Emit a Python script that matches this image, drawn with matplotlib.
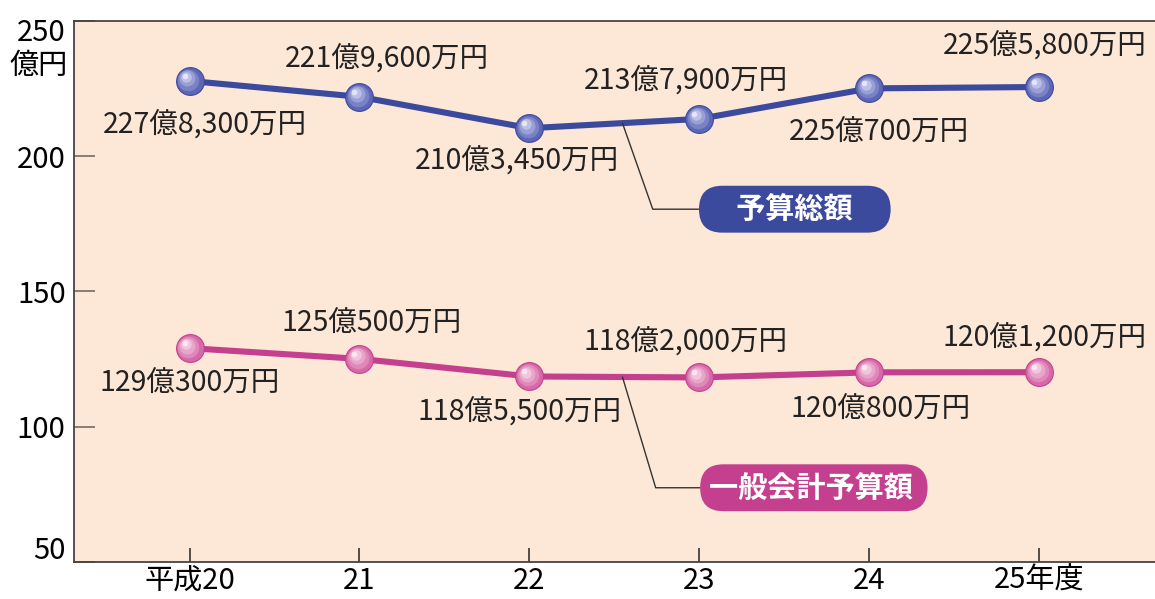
import numpy as np
import matplotlib.pyplot as plt
from matplotlib.transforms import offset_copy, ScaledTranslation

plt.rcParams['font.family'] = ['Noto Sans CJK JP', 'DejaVu Sans']

# data (億円)
years = ['平成20', '21', '22', '23', '24', '25年度']
total = [227.83, 221.96, 210.345, 213.79, 225.07, 225.58]
general = [129.03, 125.05, 118.55, 118.20, 120.08, 120.12]
total_labels = ['227億8,300万円', '221億9,600万円', '210億3,450万円',
                '213億7,900万円', '225億700万円', '225億5,800万円']
general_labels = ['129億300万円', '125億500万円', '118億5,500万円',
                  '118億2,000万円', '120億800万円', '120億1,200万円']
y_ticks = [50, 100, 150, 200, 250]

# label offsets in points (dx, dy)
total_offs = [(11, -32), (20, 27), (-9, -24), (-10, 27), (7, -32), (4, 29)]
general_offs = [(0, -26), (9, 25), (-7, -26), (-10, 25), (8, -27), (4, 24)]

fig = plt.figure(figsize=(11.55, 5.99), dpi=100)
ax = fig.add_axes([0.064, 0.062, 0.936, 0.903])
ax.set_facecolor('#fde7d7')
x = np.arange(len(years))


def draw_series(vals, line_c, shades):
    ax.plot(x, vals, color=line_c, lw=4.4, zorder=3, solid_capstyle='round')
    ax.plot(x, vals, 'o', ms=20, mfc=shades[0], mec=line_c, mew=0.8, zorder=4)
    sizes = [15.5, 11.5, 7.5, 4]
    for i, (s, c) in enumerate(zip(sizes, shades[1:])):
        tr = offset_copy(ax.transData, fig=fig, x=-0.9 * (i + 1), y=0.9 * (i + 1), units='points')
        ax.plot(x, vals, 'o', ms=s, mfc=c, mec='none', zorder=5 + i, transform=tr)


draw_series(total, '#3c4a9e', ['#5e66b6', '#7a82c6', '#9aa0d6', '#bcc0e6', '#e4e6f6'])
draw_series(general, '#c43f8d', ['#d66aa8', '#e088b9', '#e9a6cb', '#f2c5de', '#fbe6f1'])

for xi, v, t, (dx, dy) in zip(x, total, total_labels, total_offs):
    ax.annotate(t, (xi, v), xytext=(dx, dy), textcoords='offset points',
                ha='center', va='center', fontsize=20.5, color='#222222', zorder=8)
for xi, v, t, (dx, dy) in zip(x, general, general_labels, general_offs):
    ax.annotate(t, (xi, v), xytext=(dx, dy), textcoords='offset points',
                ha='center', va='center', fontsize=20.5, color='#222222', zorder=8)

# callout boxes
px = 2.547
tv = np.interp(px, x, total)
gv = np.interp(px, x, general)
ax.annotate('\u3000予算総額\u3000', (px, tv), xytext=(3.561, 180.4), textcoords='data',
            ha='center', va='center', fontsize=21, fontweight='bold', color='white',
            bbox=dict(boxstyle='round,pad=0.29,rounding_size=0.8', fc='#3c4a9e', ec='none'),
            arrowprops=dict(arrowstyle='-', color='#333333', lw=1.0, shrinkA=0, shrinkB=0,
                            connectionstyle='angle,angleA=0,angleB=-70.6,rad=0'),
            zorder=9)
ax.annotate('一般会計予算額 ', (px, gv), xytext=(3.673, 77.4), textcoords='data',
            ha='center', va='center', fontsize=21, fontweight='bold', color='white',
            bbox=dict(boxstyle='round,pad=0.29,rounding_size=0.8', fc='#c43f8d', ec='none'),
            arrowprops=dict(arrowstyle='-', color='#333333', lw=1.0, shrinkA=0, shrinkB=0,
                            connectionstyle='angle,angleA=0,angleB=-73.3,rad=0'),
            zorder=9)

# axes
ax.set_xlim(-0.68, 5.68)
ax.set_ylim(50, 250)
ax.set_xticks(x)
ax.set_xticklabels(years, fontsize=21)
ax.set_yticks(y_ticks)
ax.set_yticklabels([str(t) for t in y_ticks], fontsize=21)
ax.tick_params(axis='y', direction='in', length=15, width=1.2, color='#7a6a60', pad=6)
ax.tick_params(axis='x', direction='in', length=10, width=1.2, color='#333333', pad=3)
for s in ['left', 'bottom', 'top']:
    ax.spines[s].set_color('#444444')
    ax.spines[s].set_linewidth(1.3)
ax.spines['right'].set_visible(False)

ylabs = ax.get_yticklabels()
ylabs[0].set_transform(ylabs[0].get_transform() + ScaledTranslation(0, 14 / 100, fig.dpi_scale_trans))
ylabs[-1].set_transform(ylabs[-1].get_transform() + ScaledTranslation(0, -9 / 100, fig.dpi_scale_trans))
ax.text(-0.006, 0.917, '億円', transform=ax.transAxes, ha='right', va='center', fontsize=21)

fig.savefig('out.png', dpi=100)
